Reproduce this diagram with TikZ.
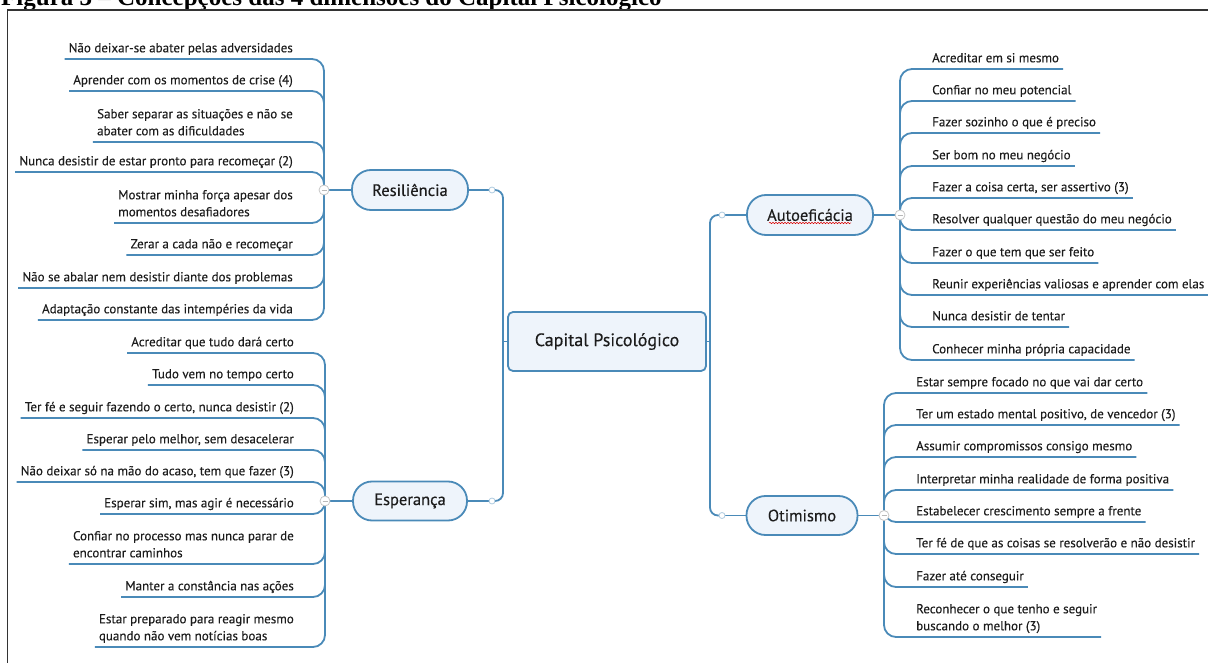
\documentclass[tikz,border=0pt]{standalone}
\usepackage{fontspec}
\setmainfont{Liberation Serif}
\newfontfamily\mapfont[FakeBold=0.25]{PT Sans}
\usetikzlibrary{backgrounds,decorations.pathmorphing}
\definecolor{bl}{HTML}{4A8AB8}
\definecolor{pillfill}{HTML}{EEF4FB}
\definecolor{txt}{HTML}{1C1C1C}
\definecolor{frame}{HTML}{333333}
\newcommand\mystrut{\rule[-3.5pt]{0pt}{11pt}}
\begin{document}
\begin{tikzpicture}[x=1pt,y=-1pt,
  branch/.style={draw=bl, line width=1.8pt, rounded corners=12pt},
  trunk/.style={draw=bl, line width=1.8pt, rounded corners=8pt},
  pill/.style={draw=bl, line width=1.8pt, fill=pillfill, rounded corners=19pt, font=\mapfont\fontsize{16.5}{19}\selectfont, text=txt, inner sep=0pt},
  child/.style={font=\mapfont\fontsize{13}{17}\selectfont, text=txt, inner xsep=4pt, inner ysep=3pt, execute at end node=\mystrut},
  lchild/.style={child, anchor=south east, align=left},
  rchild/.style={child, anchor=south west, align=left},
  junc/.style={circle, draw=gray!45, fill=white, line width=0.8pt, minimum size=10pt, inner sep=0pt,
    path picture={\draw[gray!55, line width=0.8pt] ([xshift=-2.5pt]path picture bounding box.center) -- ([xshift=2.5pt]path picture bounding box.center);}},
  dot/.style={circle, draw=bl!45, fill=white, line width=0.8pt, minimum size=6pt, inner sep=0pt},
  spell/.style={draw=red!85!black, line width=0.5pt, decorate, decoration={snake, segment length=3pt, amplitude=0.7pt}}
]
\useasboundingbox (0,0) rectangle (1208,663);
\clip (0,0) rectangle (1208,663);
% title and frame
\node[anchor=base west, font=\bfseries\fontsize{25}{28}\selectfont, inner sep=0pt] (title) at (1,5.5) {Figura 3 – Concepções das 4 dimensões do Capital Psicológico};
\coordinate (fbl) at (7.5,680);
\coordinate (ftl) at (7.5,10);
\coordinate (ftr) at (1220,10);
\draw[frame, line width=1.4pt] (fbl) -- (ftl) -- (ftr);

% main nodes
\node[draw=bl, line width=1.8pt, fill=pillfill, rounded corners=5pt, minimum width=198pt, minimum height=59pt, font=\mapfont\fontsize{18}{22}\selectfont, text=txt] (cp) at (607,341.5) {Capital Psicológico};
\node[pill, minimum width=116pt, minimum height=40pt] (res) at (410,190) {Resiliência};
\node[pill, minimum width=114pt, minimum height=39pt] (esp) at (410,501) {Esperança};
\node[pill, minimum width=126pt, minimum height=40pt] (aut) at (810,215) {Autoeficácia};
\node[pill, minimum width=111pt, minimum height=39pt] (oti) at (802,515.5) {Otimismo};
\draw[spell] ([xshift=-41pt,yshift=-8pt]aut.center) -- ([xshift=41pt,yshift=-8pt]aut.center);

\coordinate (lt) at (503,341.5);
\coordinate (rt) at (710,341.5);

\node[dot] (cres) at (492,190) {};
\node[dot] (cesp) at (492,501) {};
\node[dot] (caut) at (722,215) {};
\node[dot] (coti) at (722,515.5) {};
\node[junc] (jres) at (324,190) {};
\node[junc] (jesp) at (325,501) {};
\node[junc] (jaut) at (900,215) {};
\node[junc] (joti) at (884,515.5) {};

% Resiliência children
\node[lchild] (r1) at (297,59) {Não deixar-se abater pelas adversidades};
\node[lchild] (r2) at (297,91) {Aprender com os momentos de crise (4)};
\node[lchild] (r3) at (297,142) {Saber separar as situações e não se\\abater com as dificuldades};
\node[lchild] (r4) at (297,172) {Nunca desistir de estar pronto para recomeçar (2)};
\node[lchild] (r5) at (297,223) {Mostrar minha força apesar dos\\momentos desafiadores};
\node[lchild] (r6) at (297,255) {Zerar a cada não e recomeçar};
\node[lchild] (r7) at (297,288) {Não se abalar nem desistir diante dos problemas};
\node[lchild] (r8) at (297,320) {Adaptação constante das intempéries da vida};

% Esperança children
\node[lchild] (e1) at (298,353) {Acreditar que tudo dará certo};
\node[lchild] (e2) at (298,385) {Tudo vem no tempo certo};
\node[lchild] (e3) at (298,418) {Ter fé e seguir fazendo o certo, nunca desistir (2)};
\node[lchild] (e4) at (298,450) {Esperar pelo melhor, sem desacelerar};
\node[lchild] (e5) at (298,482) {Não deixar só na mão do acaso, tem que fazer (3)};
\node[lchild] (e6) at (298,514) {Esperar sim, mas agir é necessário};
\node[lchild] (e7) at (298,564) {Confiar no processo mas nunca parar de\\encontrar caminhos};
\node[lchild] (e8) at (298,597) {Manter a constância nas ações};
\node[lchild] (e9) at (298,647) {Estar preparado para reagir mesmo\\quando não vem notícias boas};

% Autoeficácia children
\node[rchild] (a1) at (928,69) {Acreditar em si mesmo};
\node[rchild] (a2) at (928,101) {Confiar no meu potencial};
\node[rchild] (a3) at (928,133) {Fazer sozinho o que é preciso};
\node[rchild] (a4) at (928,166) {Ser bom no meu negócio};
\node[rchild] (a5) at (928,198) {Fazer a coisa certa, ser assertivo (3)};
\node[rchild] (a6) at (928,230) {Resolver qualquer questão do meu negócio};
\node[rchild] (a7) at (928,263) {Fazer o que tem que ser feito};
\node[rchild] (a8) at (928,295) {Reunir experiências valiosas e aprender com elas};
\node[rchild] (a9) at (928,327) {Nunca desistir de tentar};
\node[rchild] (a10) at (928,360) {Conhecer minha própria capacidade};

% Otimismo children
\node[rchild] (o1) at (912,393) {Estar sempre focado no que vai dar certo};
\node[rchild] (o2) at (912,425) {Ter um estado mental positivo, de vencedor (3)};
\node[rchild] (o3) at (912,457) {Assumir compromissos consigo mesmo};
\node[rchild] (o4) at (912,490) {Interpretar minha realidade de forma positiva};
\node[rchild] (o5) at (912,522) {Estabelecer crescimento sempre a frente};
\node[rchild] (o6) at (912,554) {Ter fé de que as coisas se resolverão e não desistir};
\node[rchild] (o7) at (912,587) {Fazer até conseguir};
\node[rchild] (o8) at (912,637) {Reconhecer o que tenho e seguir\\buscando o melhor (3)};

\begin{scope}[on background layer]
  \draw[trunk] (cres.center) -| (lt) |- (cesp.center);
  \draw[trunk] (caut.center) -| (rt) |- (coti.center);
  \draw[branch] (cp.west) -- (lt);
  \draw[branch] (cp.east) -- (rt);
  \draw[branch] (res.east) -- (cres.center);
  \draw[branch] (esp.east) -- (cesp.center);
  \draw[branch] (aut.west) -- (caut.center);
  \draw[branch] (oti.west) -- (coti.center);
  \draw[branch] (res.west) -- (jres.center);
  \draw[branch] (esp.west) -- (jesp.center);
  \draw[branch] (aut.east) -- (jaut.center);
  \draw[branch] (oti.east) -- (joti.center);
  \foreach \c in {r1,r2,r3,r4,r5,r6,r7,r8}
    \draw[branch] (jres.center) |- (\c.south west);
  \foreach \c in {e1,e2,e3,e4,e5,e6,e7,e8,e9}
    \draw[branch] (jesp.center) |- (\c.south west);
  \foreach \c in {a1,a2,a3,a4,a5,a6,a7,a8,a9,a10}
    \draw[branch] (jaut.center) |- (\c.south east);
  \foreach \c in {o1,o2,o3,o4,o5,o6,o7,o8}
    \draw[branch] (joti.center) |- (\c.south east);
\end{scope}
\end{tikzpicture}
\end{document}
